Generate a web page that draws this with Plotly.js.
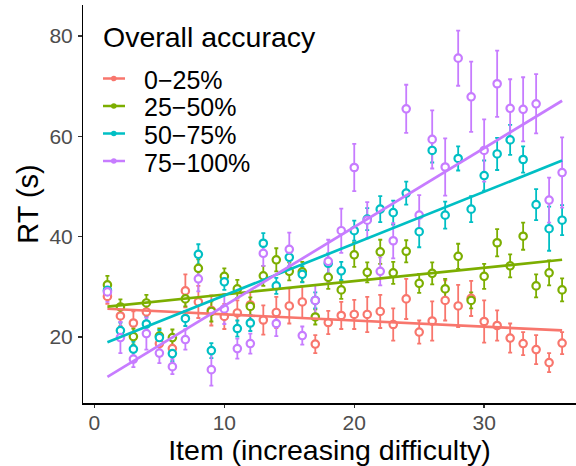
<!DOCTYPE html>
<html>
<head>
<meta charset="utf-8">
<script src="https://cdn.plot.ly/plotly-3.0.1.min.js"></script>
<style>html,body{margin:0;padding:0;background:#fff;}#chart{width:576px;height:466px;}</style>
</head>
<body>
<div id="chart"></div>
<script>
// ---------- data ----------
const items = [1,2,3,4,5,6,7,8,9,10,11,12,13,14,15,16,17,18,19,20,21,22,23,24,25,26,27,28,29,30,31,32,33,34,35,36];
const groupNames = ["0\u221225%", "25\u221250%", "50\u221275%", "75\u2212100%"];
const legendTitle = "Overall accuracy";

const rt0_25 = [28.1,24.2,22.8,25.0,18.7,17.7,29.2,27.0,25.3,24.1,24.8,26.4,23.4,24.9,26.2,27.0,18.6,22.9,24.3,24.5,24.5,25.1,22.5,27.6,21.0,23.2,27.3,26.2,27.7,23.1,22.3,19.8,18.7,17.5,14.9,18.8];
const se0_25 = [1.5,2.0,2.3,2.0,1.5,1.5,3.3,3.2,3.0,2.5,2.5,2.8,2.9,3.1,3.5,3.2,1.8,2.3,2.7,2.9,3.5,3.3,3.2,4.0,2.3,3.9,4.0,4.2,3.5,4.2,3.0,2.9,2.3,2.9,1.9,2.2];

const rt25_50 = [30.4,26.0,20.1,26.8,20.2,19.9,27.6,33.7,25.1,32.1,29.6,26.1,32.2,35.4,33.1,33.0,24.0,31.9,29.4,36.4,32.9,37.0,32.8,37.1,30.7,32.7,29.6,36.1,27.3,32.1,38.8,34.2,40.1,30.2,32.8,29.4];
const se25_50 = [1.8,1.5,1.6,1.6,1.5,1.6,1.5,1.8,2.0,1.6,1.8,1.8,2.0,2.3,1.8,2.0,1.5,2.3,1.8,2.4,2.0,2.4,2.2,2.2,1.9,2.2,2.0,2.5,1.6,2.5,2.7,2.3,2.7,2.3,2.5,2.3];

const rt50_75 = [29.3,21.3,17.6,22.6,19.9,16.7,23.7,36.5,17.3,31.0,21.7,22.8,38.7,30.2,35.9,32.5,27.3,34.7,33.2,41.2,43.5,45.5,44.8,48.7,41.0,57.2,44.3,55.6,45.5,52.2,56.5,59.3,55.4,46.4,41.6,43.3];
const se50_75 = [1.5,1.6,1.5,1.5,1.5,1.5,1.5,2.0,1.5,1.6,1.6,1.6,2.0,1.6,1.8,1.6,1.6,2.0,1.8,2.0,2.2,2.6,2.4,2.3,3.1,2.4,2.7,2.4,2.6,3.0,3.2,3.0,2.6,3.1,4.4,3.0];

const rt75_100 = [29.0,19.9,15.6,20.7,16.8,14.1,19.5,31.6,13.5,25.6,17.7,18.7,36.7,22.7,37.5,20.3,27.3,35.1,41.2,53.8,43.3,33.1,39.2,65.5,44.3,59.4,53.9,75.6,67.9,57.2,70.5,65.6,65.4,66.5,47.3,52.8];
const se75_100 = [2.0,3.1,1.6,3.2,2.0,1.5,2.0,2.5,3.2,3.0,2.0,2.0,2.5,2.5,3.3,1.8,3.1,4.3,4.4,4.7,3.6,2.8,3.5,4.8,4.0,5.8,5.7,5.5,7.0,6.2,6.6,5.8,6.4,5.9,4.5,7.0];

const xTicks = [0,10,20,30];
const yTicks = [20,40,60,80];

// ---------- styling ----------
const colors = ["#F8766D", "#7CAE00", "#00BFC4", "#C77CFF"];
const series = [rt0_25, rt25_50, rt50_75, rt75_100];
const errors = [se0_25, se25_50, se50_75, se75_100];
const FONT = "Liberation Sans, Arial, Helvetica, sans-serif";

function linfit(xs, ys) {
  const n = xs.length;
  let sx = 0, sy = 0, sxx = 0, sxy = 0;
  for (let i = 0; i < n; i++) { sx += xs[i]; sy += ys[i]; sxx += xs[i]*xs[i]; sxy += xs[i]*ys[i]; }
  const b = (n*sxy - sx*sy) / (n*sxx - sx*sx);
  const a = (sy - b*sx) / n;
  return {a, b};
}

const traces = [];
// error bars layer
series.forEach((ys, k) => {
  traces.push({
    x: items, y: ys, type: 'scatter', mode: 'markers', name: groupNames[k],
    marker: {size: 1, opacity: 0, color: colors[k]},
    error_y: {type: 'data', array: errors[k], visible: true, color: colors[k], thickness: 1.8, width: 2},
    hoverinfo: 'skip', showlegend: false
  });
});
// points layer
series.forEach((ys, k) => {
  traces.push({
    x: items, y: ys, type: 'scatter', mode: 'markers', name: groupNames[k],
    marker: {symbol: 'circle', size: 7.4, color: 'white', line: {color: colors[k], width: 2.2}},
    showlegend: false
  });
});
// linear fit layer
series.forEach((ys, k) => {
  const f = linfit(items, ys);
  const x0 = items[0], x1 = items[items.length - 1];
  traces.push({
    x: [x0, x1], y: [f.a + f.b*x0, f.a + f.b*x1], type: 'scatter', mode: 'lines',
    name: groupNames[k], line: {color: colors[k], width: 2.7}, showlegend: false, hoverinfo: 'skip'
  });
});

// ---------- legend drawn in plot (paper coords) ----------
const W = 576, H = 466, ML = 83, MR = 0, MT = 5, MB = 63;
const pw = W - ML - MR, ph = H - MT - MB;
const px = v => (v - ML) / pw;
const py = v => (H - MB - v) / ph;

const annotations = [{
  text: legendTitle, xref: 'paper', yref: 'paper', x: px(101), y: py(36.5),
  xanchor: 'left', yanchor: 'middle', showarrow: false,
  font: {family: FONT, size: 28.5, color: '#000'}
}];
const shapes = [];
const rowY = [80, 107.5, 135, 162.5];
groupNames.forEach((g, k) => {
  annotations.push({
    text: g, xref: 'paper', yref: 'paper', x: px(142), y: py(rowY[k]),
    xanchor: 'left', yanchor: 'middle', showarrow: false,
    font: {family: FONT, size: 25, color: '#000'}
  });
  shapes.push({type: 'line', xref: 'paper', yref: 'paper', x0: px(103), x1: px(125), y0: py(rowY[k] - 1.5), y1: py(rowY[k] - 1.5),
    line: {color: colors[k], width: 2.5}});
  shapes.push({type: 'circle', xref: 'paper', yref: 'paper', x0: px(111), x1: px(116.6), y0: py(rowY[k] - 1.5 - 2.8), y1: py(rowY[k] - 1.5 + 2.8),
    fillcolor: colors[k], line: {width: 0}});
});

const axisCommon = {
  showgrid: false, zeroline: false, showline: true, linecolor: '#000', linewidth: 1.5,
  ticks: 'outside', ticklen: 3.5, tickwidth: 1.5, tickcolor: '#333',
  tickfont: {family: FONT, size: 21, color: '#4D4D4D'}, automargin: false
};

const layout = {
  width: W, height: H,
  margin: {l: ML, r: MR, t: MT, b: MB, pad: 0},
  paper_bgcolor: '#fff', plot_bgcolor: '#fff',
  showlegend: false,
  font: {family: FONT, color: '#000'},
  xaxis: Object.assign({}, axisCommon, {
    range: [-0.88, 37.07], tickvals: xTicks, ticktext: xTicks.map(String),
    ticklabelstandoff: -3,
    title: {text: 'Item (increasing difficulty)', font: {family: FONT, size: 28.5, color: '#000'}, standoff: 0}
  }),
  yaxis: Object.assign({}, axisCommon, {
    range: [6.85, 86.2], tickvals: yTicks, ticktext: yTicks.map(String),
    ticklabelstandoff: 1,
    title: {text: 'RT (s)', font: {family: FONT, size: 29, color: '#000'}, standoff: 2}
  }),
  annotations: annotations,
  shapes: shapes
};

Plotly.newPlot('chart', traces, layout, {displayModeBar: false, staticPlot: true});
</script>
</body>
</html>
